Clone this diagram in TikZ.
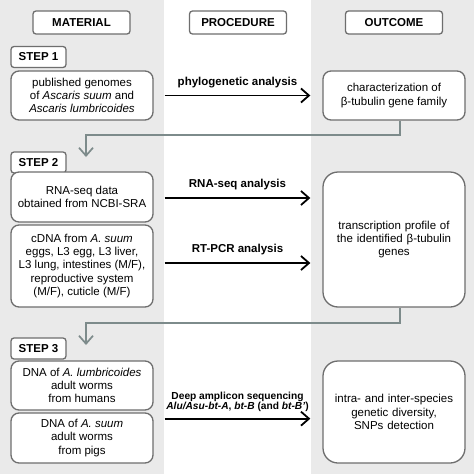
\documentclass[tikz,border=0pt]{standalone}
\usepackage{fontspec}
\setmainfont{Liberation Sans}
\usetikzlibrary{arrows.meta}
\definecolor{colgray}{RGB}{234,234,234}
\definecolor{colwhite}{RGB}{255,255,255}
\definecolor{colbd}{HTML}{6E6E6E}
\definecolor{colcn}{HTML}{7D8B8B}
\begin{document}
\begin{tikzpicture}[x=1pt,y=-1pt,
 box/.style={draw=colbd, line width=1.3pt, fill=white, rounded corners=8pt, align=center, inner sep=0pt, font=\fontsize{11.5}{13.3}\selectfont},
 bigbox/.style={box, rounded corners=15pt, minimum width=142, text width=140},
 hdr/.style={draw=colbd, line width=1.3pt, fill=white, rounded corners=3pt, font=\bfseries\fontsize{11.5}{13.3}\selectfont, minimum width=97, minimum height=23, inner sep=0pt},
 stepbox/.style={hdr, minimum width=55, minimum height=21},
 proc/.style={draw=black, line width=1.8pt, -{Straight Barb[length=8pt,width=14pt,line width=1.8pt]}},
 conn/.style={draw=colcn, line width=1.7pt, -{Straight Barb[length=8pt,width=14pt,line width=1.7pt]}},
 lbl/.style={font=\bfseries\fontsize{11.5}{13.3}\selectfont, inner sep=0pt, align=center},
 slbl/.style={font=\bfseries\fontsize{10.2}{10.5}\selectfont, inner sep=0pt, align=center},
 col/.style={inner sep=0pt, outer sep=0pt, minimum height=474, anchor=north west}
]
\node[col, fill=colgray, minimum width=163.5] (cl) at (0,0) {};
\node[col, fill=colwhite, minimum width=147.5] (cm) at (163.5,0) {};
\node[col, fill=colgray, minimum width=163] (cr) at (311,0) {};
\useasboundingbox (0,0) rectangle (474,474);

\node[hdr] (mat) at (81.5,22.5) {MATERIAL};
\node[hdr] (pro) at (238,22.5) {PROCEDURE};
\node[hdr] (out) at (394,22.5) {OUTCOME};

% STEP 1
\node[stepbox] (s1) at (38.5,57) {STEP 1};
\node[box, minimum width=142, minimum height=49] (m1) at (82,95.5) {published genomes\\of \textit{Ascaris suum} and\\\textit{Ascaris lumbricoides}};
\node[box, minimum width=142, minimum height=49] (o1) at (394,95.5) {characterization of\\β-tubulin gene family};
\draw[proc] ([xshift=11pt]m1.east) -- node[lbl, above=7pt] {phylogenetic analysis} ([xshift=-12pt]o1.west);

% STEP 2
\coordinate (t2) at (86,157);
\draw[conn] ([xshift=6pt]o1.south) -- ++(0,14) -| (t2);
\node[stepbox] (s2) at (38.5,162.5) {STEP 2};
\node[box, minimum width=142, minimum height=50] (m2) at (82,197) {RNA-seq data\\obtained from NCBI-SRA};
\node[box, minimum width=142, minimum height=82] (m3) at (82,266) {cDNA from \textit{A. suum}\\eggs, L3 egg, L3 liver,\\L3 lung, intestines (M/F),\\reproductive system\\(M/F), cuticle (M/F)};
\node[bigbox, minimum height=135] (o2) at (394,239.5) {transcription profile of\\the identified β-tubulin\\genes};
\coordinate (e2) at ([xshift=-12pt]o2.west);
\coordinate (r2) at ([xshift=11pt,yshift=-1pt]m2.east);
\draw[proc] (r2) -- node[lbl, above=7pt] {RNA-seq analysis} (r2 -| e2);
\coordinate (r3) at ([xshift=11pt,yshift=3pt]m3.east);
\draw[proc] (r3) -- node[lbl, above=7pt] {RT-PCR analysis} (r3 -| e2);

% STEP 3
\coordinate (t3) at (86,345);
\draw[conn] ([xshift=6pt]o2.south) -- ++(0,15) -| (t3);
\node[stepbox] (s3) at (38.5,348.5) {STEP 3};
\node[box, minimum width=142, minimum height=49] (m4) at (82,385.5) {DNA of \textit{A. lumbricoides}\\adult worms\\from humans};
\node[box, minimum width=142, minimum height=50] (m5) at (82,438) {DNA of \textit{A. suum}\\adult worms\\from pigs};
\node[bigbox, minimum height=102] (o3) at (394,412) {intra- and inter-species\\genetic diversity,\\SNPs detection};
\coordinate (e3) at ([xshift=-12pt]o3.west);
\coordinate (r4) at ([xshift=11pt]m4.south east);
\draw[proc] ([yshift=-8pt]r4) -- node[slbl, above=6pt] {Deep amplicon sequencing\\\textit{Alu/Asu-bt-A}, \textit{bt-B} (and \textit{bt-B’})} ([yshift=-8pt]r4 -| e3);
\end{tikzpicture}
\end{document}
